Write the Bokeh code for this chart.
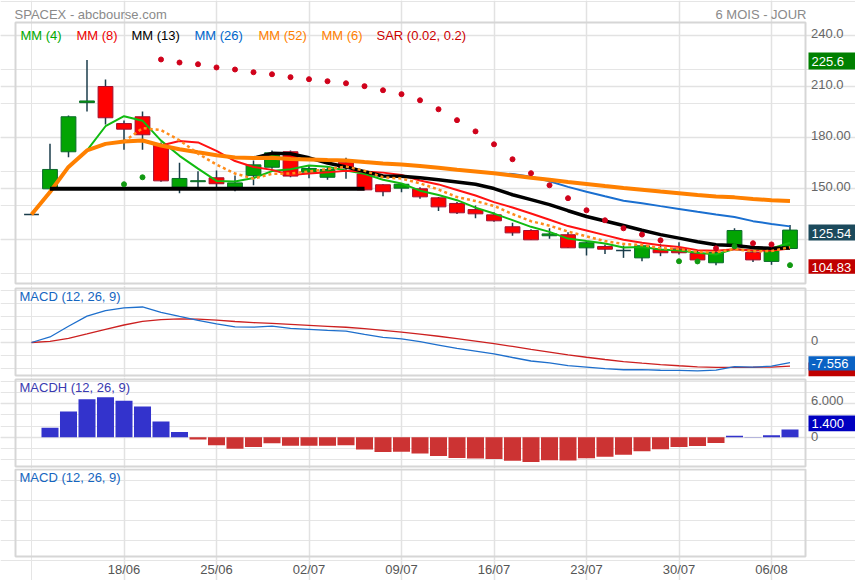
import numpy as np
import pandas as pd
from bokeh.plotting import figure
from bokeh.layouts import column
from bokeh.models import Range1d, Label, Grid, FixedTicker
from bokeh.embed import file_html
from bokeh.resources import INLINE

FONT = "Liberation Sans"

# ---------------- data ----------------
tick_idx = [5, 10, 15, 20, 25, 30, 35, 40]
tick_labels = ["18/06", "25/06", "02/07", "09/07", "16/07", "23/07", "30/07", "06/08"]

opens = [134.7, 149.8, 171.6, 200.5, 210.0, 188.2, 192.2, 175.5, 150.8, 154.0,
         156.3, 150.8, 157.6, 162.5, 171.6, 159.6, 156.6, 165.5, 158.6, 152.2,
         150.2, 149.8, 144.5, 141.2, 137.6, 134.5, 127.5, 125.3, 122.2, 122.8,
         115.1, 115.9, 113.5, 109.2, 114.1, 114.5, 111.8, 106.3, 116.3, 112.4,
         107.1, 114.7]
highs = [134.7, 176.3, 193.0, 225.6, 214.1, 190.0, 195.3, 177.0, 165.1, 160.2,
         160.6, 157.6, 166.5, 172.4, 172.4, 163.5, 162.5, 168.1, 160.0, 152.5,
         153.3, 150.8, 145.0, 142.0, 140.0, 136.0, 129.8, 126.1, 126.6, 124.3,
         119.0, 117.0, 116.5, 116.8, 117.5, 118.4, 113.5, 113.5, 126.6, 113.1,
         114.0, 128.6]
lows = [134.7, 149.0, 168.4, 195.3, 187.6, 172.8, 172.8, 154.0, 147.2, 150.4,
        150.5, 148.4, 151.9, 161.6, 156.6, 156.1, 155.1, 155.7, 149.0, 145.5,
        147.8, 144.0, 136.7, 135.0, 132.5, 130.5, 122.2, 119.8, 120.4, 115.0,
        110.6, 111.5, 109.2, 107.2, 110.2, 111.2, 108.0, 104.83, 116.0, 106.7,
        105.1, 114.7]
closes = [134.7, 161.2, 192.2, 201.5, 191.6, 184.9, 181.6, 154.5, 155.9, 154.6,
          152.8, 153.3, 163.9, 171.0, 157.3, 161.8, 161.2, 162.2, 149.2, 148.1,
          152.5, 145.1, 139.2, 135.7, 135.1, 131.0, 123.9, 119.8, 123.3, 115.1,
          118.1, 114.3, 113.5, 116.3, 112.2, 112.2, 108.0, 112.4, 125.3, 108.0,
          113.5, 125.54]

sar_idx = list(range(5, 42))
sar_val = [152.5, 156.6, 225.9, 224.1, 223.1, 221.2, 220.0, 218.4, 217.2, 215.5,
           214.3, 213.1, 211.9, 210.2, 207.8, 205.5, 201.9, 196.6, 190.2, 183.6,
           176.0, 167.2, 159.0, 151.9, 144.3, 137.2, 131.3, 126.6, 122.9, 119.5,
           107.2, 107.1, 114.8, 116.0, 117.8, 117.1, 104.9]
sar_below = [1, 1, 0, 0, 0, 0, 0, 0, 0, 0,
             0, 0, 0, 0, 0, 0, 0, 0, 0, 0,
             0, 0, 0, 0, 0, 0, 0, 0, 0, 0,
             1, 1, 0, 1, 0, 0, 1]

support_x = [1, 18]
support_y = [149.8, 149.8]

price_ticks = [240, 210, 180, 150]
price_tick_labels = ["240.0", "210.0", "180.00", "150.00"]
high_text = "225.6"
last_text = "125.54"
low_text = "104.83"
macd_last_text = "-7.556"
hist_last_text = "1.400"

# ---------------- indicators derived from the closes ----------------
cs = pd.Series(closes, dtype=float)
idx = np.arange(len(closes))
ma4 = cs.rolling(4).mean()
ma8 = cs.rolling(8).mean()
ma13 = cs.rolling(13).mean()
ma26 = cs.rolling(26).mean()
ma52 = cs.rolling(52, min_periods=1).mean()
ma6 = cs.rolling(6).mean()
ema12 = cs.ewm(span=12, adjust=False).mean()
ema26 = cs.ewm(span=26, adjust=False).mean()
macd = ema12 - ema26
signal = macd.ewm(span=9, adjust=False).mean()
hist = macd - signal

# ---------------- pixel helpers (reference layout, page pixels) ----------------
def px2x(px):
    return (px - 31.0) / 18.5

def py_main(py):
    return 120.0 + (239.0 - py) * 30.0 / 51.0

def py_macd(py):
    return (342.0 - py) / 2.607

def py_hist(py):
    return (436.7 - py) / 5.567

def py_last(py):
    return 580.0 - py

W = 855
xr = Range1d(px2x(0), px2x(W))
XL, XR = px2x(15), px2x(805)
GRID = "#e2e2e2"
OUT = "#d6d6d6"


def make_fig(height, yr, fy, top_py, bot_py):
    p = figure(width=W, height=height, min_border=0, x_range=xr, y_range=yr,
               output_backend="svg", toolbar_location=None,
               x_axis_location=None, y_axis_location=None,
               background_fill_color="white", border_fill_color="white",
               outline_line_color=None)
    p.add_layout(Grid(dimension=0, ticker=FixedTicker(ticks=tick_idx),
                      bounds=(fy(bot_py), fy(top_py)),
                      grid_line_color=GRID, grid_line_width=1.5))
    p.quad(left=[XL], right=[XR], bottom=[fy(bot_py)], top=[fy(top_py)],
           fill_color=None, line_color=OUT, line_width=2)
    return p


def hgrid(p, ticks):
    p.add_layout(Grid(dimension=1, ticker=FixedTicker(ticks=ticks), bounds=(XL, XR),
                      grid_line_color=GRID, grid_line_width=1.5))


def lab(p, x, y, text, color, size="13px", align="left", baseline="middle"):
    p.add_layout(Label(x=x, y=y, text=text, text_color=color, text_font=FONT,
                       text_font_size=size, text_align=align, text_baseline=baseline))


def value_box(p, fy, top_py, bot_py, text, bg):
    p.quad(left=[px2x(808)], right=[px2x(W + 2)], bottom=[fy(bot_py)], top=[fy(top_py)],
           fill_color=bg, line_color=None)
    lab(p, px2x(811), fy((top_py + bot_py) / 2.0 + 0.5), text, "white")


# ---------------- main price panel ----------------
p1 = make_fig(285, Range1d(py_main(285), py_main(0)), py_main, 22, 283)
hgrid(p1, [120, 150, 180, 210, 240])

o = np.array(opens); h = np.array(highs); l = np.array(lows); c = np.array(closes)
p1.segment(x0=idx, y0=l, x1=idx, y1=h, line_color="#1b3d4b", line_width=1.5)
body = np.abs(o - c) > 0.05
up = c >= o
fill = np.where(up, "#03a403", "#ff0000")
edge = np.where(up, "#0b6b2b", "#a01030")
p1.vbar(x=idx[body], width=0.8, top=np.maximum(o, c)[body], bottom=np.minimum(o, c)[body],
        fill_color=fill[body].tolist(), line_color=edge[body].tolist(), line_width=1)
dj = ~body
p1.segment(x0=idx[dj] - 0.4, y0=c[dj], x1=idx[dj] + 0.4, y1=c[dj],
           line_color="#1b3d4b", line_width=1.5)

p1.line(idx, ma4, line_color="#11bb11", line_width=2)
p1.line(idx, ma8, line_color="#ff1111", line_width=2)
p1.line(idx, ma13, line_color="#000000", line_width=3.5)
p1.line(idx, ma26, line_color="#1a6fd0", line_width=2)
p1.line(idx, ma52, line_color="#ff8000", line_width=4)
p1.line(idx, ma6, line_color="#ff8c1a", line_width=2.5, line_dash="3 3")
p1.line(support_x, support_y, line_color="#000000", line_width=4)

sar_col = ["#119911" if b else "#d0021b" for b in sar_below]
p1.scatter(sar_idx, sar_val, marker="circle", size=5, fill_color=sar_col,
           line_color=sar_col)

lab(p1, px2x(14), py_main(13.5), "SPACEX - abcbourse.com", "#8a8a8a", baseline="alphabetic")
lab(p1, px2x(806), py_main(13.5), "6 MOIS - JOUR", "#8a8a8a", align="right",
    baseline="alphabetic")
legend = [("MM (4)", "#00aa00", 20), ("MM (8)", "#ee0000", 76), ("MM (13)", "#000000", 131),
          ("MM (26)", "#0066cc", 194), ("MM (52)", "#ff8000", 258), ("MM (6)", "#ff8000", 321),
          ("SAR (0.02, 0.2)", "#cc0000", 376)]
for t, col, px in legend:
    lab(p1, px2x(px), py_main(34.5), t, col, baseline="alphabetic")

for v, t in zip(price_ticks, price_tick_labels):
    lab(p1, px2x(810.5), v + 2.5 * 30.0 / 51.0, t, "#666666")
value_box(p1, py_main, 52, 69, high_text, "#008000")
value_box(p1, py_main, 224, 240, last_text, "#1c4a5c")
value_box(p1, py_main, 258.7, 273.3, low_text, "#c00000")

# ---------------- MACD panel ----------------
p2 = make_fig(92, Range1d(py_macd(377), py_macd(285)), py_macd, 288, 375)
hgrid(p2, [0])
p2.line(idx, signal, line_color="#cc2020", line_width=1.3)
p2.line(idx, macd, line_color="#1e6fcc", line_width=1.3)
lab(p2, px2x(19), py_macd(296), "MACD (12, 26, 9)", "#1565c0")
lab(p2, px2x(810.5), py_macd(340), "0", "#666666")
p2.quad(left=[px2x(808)], right=[px2x(W + 2)], bottom=[py_macd(375.7)], top=[py_macd(362)],
        fill_color="#c00000", line_color=None)
value_box(p2, py_macd, 355.7, 370, macd_last_text, "#0a62c4")

# ---------------- MACDH panel ----------------
p3 = make_fig(91, Range1d(py_hist(468), py_hist(377)), py_hist, 379, 466)
hgrid(p3, [0, 6])
hv = hist.values
hcol = ["#3333cc" if v >= 0 else "#cc3333" for v in hv]
p3.vbar(x=idx[1:], width=0.92, top=hv[1:], bottom=0, fill_color=hcol[1:],
        line_color=None)
lab(p3, px2x(19), py_hist(387), "MACDH (12, 26, 9)", "#3a3ab0")
lab(p3, px2x(810.5), py_hist(400), "6.000", "#666666")
lab(p3, px2x(810.5), py_hist(436), "0", "#666666")
value_box(p3, py_hist, 415, 430.7, hist_last_text, "#0000c0")

# ---------------- empty MACD panel with the dates ----------------
p4 = make_fig(112, Range1d(py_last(580), py_last(468)), py_last, 469, 556)
lab(p4, px2x(19), py_last(477), "MACD (12, 26, 9)", "#1565c0")
for ti, tl in zip(tick_idx, tick_labels):
    lab(p4, ti, py_last(569), tl, "#555555", align="center")

layout = column(p1, p2, p3, p4, spacing=0)
open("out.html", "w").write(file_html(layout, INLINE))
